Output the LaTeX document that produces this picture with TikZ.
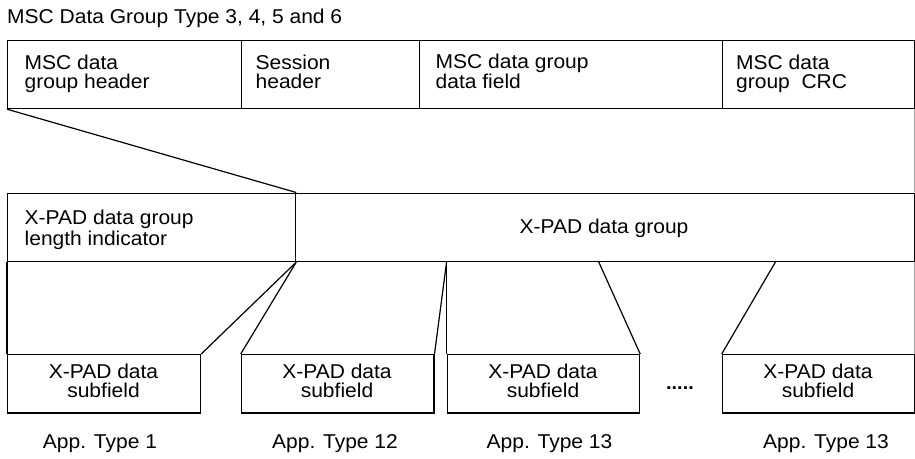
\documentclass[tikz,border=0pt]{standalone}
\usepackage{fontspec}
\setmainfont[FakeStretch=1.05]{Liberation Sans}
\begin{document}
\begin{tikzpicture}[x=1pt,y=-1pt,
  box/.style={draw, line width=1.2pt, inner sep=0pt, anchor=north west},
  txt/.style={inner sep=0pt, font=\fontsize{20}{18.5}\selectfont},
  lnk/.style={line width=1.2pt}]
\useasboundingbox (0,0) rectangle (915,458);
% title
\node[txt, anchor=base west] (title) at (7,23.5) {MSC Data Group Type 3, 4, 5 and 6};
% top row
\node[box, minimum width=233.7pt, minimum height=68pt] (h1) at (7,40) {};
\node[box, minimum width=178.3pt, minimum height=68pt] (h2) at (240.7,40) {};
\node[box, minimum width=302.7pt, minimum height=68pt] (h3) at (419,40) {};
\node[box, minimum width=192.3pt, minimum height=68pt] (h4) at (721.7,40) {};
\node[txt, anchor=base west, align=left] (t1) at (24.5,88) {MSC data\\group header};
\node[txt, anchor=base west, align=left] (t2) at (255.5,88) {Session\\header};
\node[txt, anchor=base west, align=left] (t3) at (435.5,88) {MSC data group\\data field};
\node[txt, anchor=base west, align=left] (t4) at (736,88) {MSC data\\group~~CRC};
% X-PAD row
\node[box, minimum width=288pt, minimum height=68.5pt] (len) at (7,192.5) {};
\node[box, minimum width=619pt, minimum height=68.5pt] (grp) at (295,192.5) {};
\node[txt, anchor=base west, align=left, font=\fontsize{20}{20.5}\selectfont] (tl) at (24.5,245) {X-PAD data group\\length indicator};
\node[txt, anchor=base] (tg) at (604,233.5) {X-PAD data group};
% subfields
\node[box, minimum width=193pt, minimum height=58.3pt] (s1) at (7,354) {};
\node[box, minimum width=192.6pt, minimum height=58.3pt] (s2) at (240.7,354) {};
\node[box, minimum width=192.3pt, minimum height=58.3pt] (s3) at (446.7,354) {};
\node[box, minimum width=192.3pt, minimum height=58.3pt] (s4) at (721.7,354) {};
\node[txt, anchor=base, align=center] (ts1) at (103.5,397) {X-PAD data\\subfield};
\node[txt, anchor=base, align=center] (ts2) at (337,397) {X-PAD data\\subfield};
\node[txt, anchor=base, align=center] (ts3) at (543,397) {X-PAD data\\subfield};
\node[txt, anchor=base, align=center] (ts4) at (818,397) {X-PAD data\\subfield};
\node[txt, anchor=base, font=\fontsize{19}{19}\bfseries] (dots) at (680,389) {.....};
% app labels
\node[txt, anchor=base] (a1) at (100,448.5) {App. Type 1};
\node[txt, anchor=base] (a2) at (335,448.5) {App. Type 12};
\node[txt, anchor=base] (a3) at (549.5,448.5) {App. Type 13};
\node[txt, anchor=base] (a4) at (826,448.5) {App. Type 13};
% connectors
\coordinate (g3) at (446.7,261);
\coordinate (g4) at (598.3,261);
\coordinate (g5) at (776,261);
\draw[lnk] (h1.south west) -- (len.north east);
\draw[lnk] (h4.south east) -- (grp.north east);
\draw[lnk] (len.south west) -- (s1.north west);
\draw[lnk] (grp.south east) -- (s4.north east);
\draw[lnk] (len.south east) -- (s1.north east);
\draw[lnk] (len.south east) -- (s2.north west);
\draw[lnk] (g3) -- (s2.north east);
\draw[lnk] (g3) -- (s3.north west);
\draw[lnk] (g4) -- (s3.north east);
\draw[lnk] (g5) -- (s4.north west);
\end{tikzpicture}
\end{document}
